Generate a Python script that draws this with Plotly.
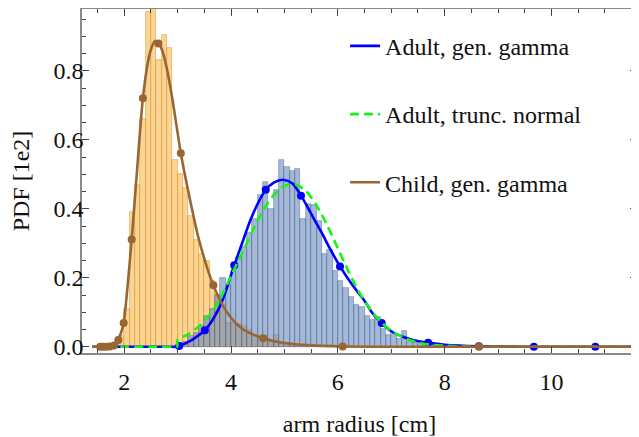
import plotly.graph_objects as go

# ---------------- data ----------------
# Child histogram: bin left edges (width 0.1) and heights
child_bin_left = [1.8, 1.9, 2.0, 2.1, 2.2, 2.3, 2.4, 2.5, 2.6, 2.7, 2.8, 2.9, 3.0, 3.1, 3.2,
                  3.3, 3.4, 3.5, 3.6, 3.7, 3.8, 3.9, 4.0, 4.1, 4.2, 4.3, 4.4, 4.5, 4.6, 4.7,
                  4.8, 4.9, 5.0, 5.1, 5.2, 5.3, 5.4, 5.5]
child_hist = [0.005, 0.03, 0.11, 0.39, 0.47, 0.66, 0.97, 0.99, 0.83, 0.905, 0.865, 0.54, 0.50,
              0.46, 0.38, 0.31, 0.27, 0.25, 0.19, 0.15, 0.12, 0.07, 0.068, 0.066, 0.06, 0.05,
              0.035, 0.025, 0.03, 0.018, 0.034, 0.01, 0.012, 0.008, 0.005, 0.004, 0.003, 0.002]

# Adult histogram
adult_bin_left = [3.0, 3.1, 3.2, 3.3, 3.4, 3.5, 3.6, 3.7, 3.8, 3.9, 4.0, 4.1, 4.2, 4.3, 4.4,
                  4.5, 4.6, 4.7, 4.8, 4.9, 5.0, 5.1, 5.2, 5.3, 5.4, 5.5, 5.6, 5.7, 5.8, 5.9,
                  6.0, 6.1, 6.2, 6.3, 6.4, 6.5, 6.6, 6.7, 6.8, 6.9, 7.0, 7.1, 7.2, 7.3, 7.4,
                  7.5, 7.6, 7.7, 7.8, 7.9, 8.0, 8.1, 8.2, 8.3]
adult_hist = [0.01, 0.015, 0.03, 0.04, 0.06, 0.09, 0.11, 0.15, 0.20, 0.18, 0.22, 0.26, 0.29,
              0.33, 0.37, 0.44, 0.478, 0.40, 0.455, 0.541, 0.52, 0.51, 0.515, 0.37, 0.414,
              0.41, 0.366, 0.27, 0.28, 0.22, 0.19, 0.17, 0.145, 0.12, 0.115, 0.09, 0.077,
              0.087, 0.053, 0.034, 0.039, 0.024, 0.046, 0.014, 0.012, 0.008, 0.008, 0.006,
              0.004, 0.005, 0.003, 0.002, 0.002, 0.001]
bin_width = 0.1

# Adult generalized-gamma fit curve
adult_gg_x = [1.4, 2.0, 2.5, 2.9, 3.0, 3.1, 3.2, 3.3, 3.4, 3.51, 3.6, 3.7, 3.8, 3.9, 4.0,
              4.06, 4.2, 4.36, 4.5, 4.65, 4.8, 4.98, 5.15, 5.31, 5.45, 5.57, 5.7, 5.85, 6.04,
              6.2, 6.35, 6.5, 6.65, 6.82, 7.0, 7.2, 7.4, 7.69, 8.0, 8.64, 9.67, 10.82, 11.5]
adult_gg_y = [0, 0, 0, 0, 0, 0.007, 0.014, 0.023, 0.034, 0.048, 0.065, 0.09, 0.12, 0.16,
              0.208, 0.236, 0.297, 0.366, 0.415, 0.455, 0.476, 0.484, 0.473, 0.438, 0.40,
              0.366, 0.33, 0.285, 0.233, 0.195, 0.163, 0.133, 0.097, 0.069, 0.045, 0.03,
              0.02, 0.012, 0.006, 0.0015, 0.0002, 0, 0]
adult_gg_mark_x = [3.03, 3.51, 4.06, 4.65, 5.31, 6.04, 6.82, 7.69, 8.64, 9.67, 10.82]
adult_gg_mark_y = [0.002, 0.048, 0.236, 0.455, 0.438, 0.233, 0.069, 0.012, 0.0015, 0.0002, 0]

# Adult truncated-normal fit curve
adult_tn_x = [1.4, 2.0, 2.5, 2.9, 2.99, 3.0, 3.2, 3.4, 3.6, 3.8, 4.0, 4.2, 4.4, 4.6, 4.8, 5.0,
              5.2, 5.4, 5.6, 5.8, 6.0, 6.2, 6.4, 6.6, 6.8, 7.0, 7.3, 7.6, 8.0, 8.5, 9.0, 11.5]
adult_tn_y = [0, 0, 0, 0, 0, 0.021, 0.036, 0.06, 0.093, 0.14, 0.205, 0.27, 0.335, 0.395,
              0.44, 0.466, 0.471, 0.452, 0.41, 0.352, 0.285, 0.218, 0.158, 0.11, 0.073,
              0.046, 0.022, 0.009, 0.003, 0.0005, 0, 0]

# Child generalized-gamma fit curve
child_gg_x = [1.4, 1.6, 1.7, 1.8, 1.85, 1.9, 1.95, 1.99, 2.05, 2.14, 2.2, 2.25, 2.35, 2.45,
              2.52, 2.58, 2.64, 2.72, 2.8, 2.9, 3.0, 3.06, 3.2, 3.4, 3.67, 3.92, 4.23, 4.6,
              5.0, 5.5, 6.09, 7.0, 8.64, 11.5]
child_gg_y = [0, 0, 0.001, 0.005, 0.012, 0.025, 0.045, 0.069, 0.153, 0.311, 0.43, 0.53, 0.72,
              0.83, 0.87, 0.886, 0.882, 0.855, 0.805, 0.72, 0.62, 0.561, 0.45, 0.31, 0.178,
              0.101, 0.05, 0.025, 0.011, 0.004, 0.001, 0, 0, 0]
child_gg_mark_x = [1.55, 1.6, 1.66, 1.73, 1.81, 1.89, 1.99, 2.14, 2.35, 2.64, 3.06, 3.67,
                   4.60, 6.09, 8.64]
child_gg_mark_y = [0, 0, 0, 0.001, 0.004, 0.02, 0.069, 0.311, 0.72, 0.879, 0.561, 0.178,
                   0.025, 0.001, 0]

x_tick_vals = [2, 4, 6, 8, 10]
y_tick_vals = [0.0, 0.2, 0.4, 0.6, 0.8]

# ---------------- styling ----------------
FONT = "Liberation Serif, Times New Roman, serif"
BLUE = "rgb(0,0,255)"
GREEN = "rgb(20,245,20)"
BROWN = "#996633"

fig = go.Figure()

fig.add_trace(go.Bar(
    x=child_bin_left, y=child_hist, width=bin_width, offset=0,
    marker=dict(color="rgba(248,190,90,0.65)",
                line=dict(color="rgba(225,150,50,0.8)", width=0.7)),
    showlegend=False, hoverinfo="skip"))
fig.add_trace(go.Bar(
    x=adult_bin_left, y=adult_hist, width=bin_width, offset=0,
    marker=dict(color="rgba(100,135,185,0.58)",
                line=dict(color="rgba(60,90,140,0.6)", width=0.7)),
    showlegend=False, hoverinfo="skip"))

fig.add_trace(go.Scatter(
    x=adult_gg_x, y=adult_gg_y, mode="lines", name="Adult, gen. gamma", legendgroup="a",
    line=dict(color=BLUE, width=2.6, shape="spline", smoothing=0.8)))
fig.add_trace(go.Scatter(
    x=adult_gg_mark_x, y=adult_gg_mark_y, mode="markers", showlegend=False, legendgroup="a",
    marker=dict(color=BLUE, size=8)))
fig.add_trace(go.Scatter(
    x=adult_tn_x, y=adult_tn_y, mode="lines", name="Adult, trunc. normal", legendgroup="b",
    line=dict(color=GREEN, width=2.6, dash="9px,5px", shape="spline", smoothing=0.8)))
fig.add_trace(go.Scatter(
    x=child_gg_x, y=child_gg_y, mode="lines", name="Child, gen. gamma", legendgroup="c",
    line=dict(color=BROWN, width=2.6, shape="spline", smoothing=0.8)))
fig.add_trace(go.Scatter(
    x=child_gg_mark_x, y=child_gg_mark_y, mode="markers", showlegend=False, legendgroup="c",
    marker=dict(color=BROWN, size=8)))

axis_common = dict(
    showline=True, linecolor="#8a8a8a", linewidth=1.6, mirror="ticks",
    ticks="inside", tickcolor="#444", tickwidth=1, ticklen=7,
    showgrid=False, zeroline=False, automargin=False,
    tickfont=dict(family=FONT, size=24, color="#111"),
)

# the page adds an 8px body margin, so the figure is sized to fit the 639x437 window
fig.update_layout(
    width=631, height=429,
    margin=dict(l=74, r=2, t=1, b=84),
    paper_bgcolor="white", plot_bgcolor="white",
    barmode="overlay", bargap=0,
    font=dict(family=FONT, size=24, color="#111"),
    xaxis=dict(range=[1.21, 11.6], tickvals=x_tick_vals, ticklabelstandoff=6,
               minor=dict(dtick=0.5, tick0=0, ticks="inside", ticklen=4,
                          tickcolor="#444", tickwidth=1),
               title=dict(text="arm radius [cm]", font=dict(family=FONT, size=24), standoff=22),
               **axis_common),
    yaxis=dict(range=[-0.018, 0.979], tickvals=y_tick_vals, tickformat=".1f",
               ticklabelstandoff=-8,
               minor=dict(dtick=0.05, tick0=0, ticks="inside", ticklen=4,
                          tickcolor="#444", tickwidth=1),
               title=dict(text="PDF [1e2]", font=dict(family=FONT, size=24), standoff=22),
               **axis_common),
    legend=dict(x=0.474, y=0.957, xanchor="left", yanchor="top",
                bgcolor="rgba(0,0,0,0)", font=dict(family=FONT, size=24, color="#111"),
                tracegroupgap=34, itemwidth=30),
)

fig.write_html("out.html")
